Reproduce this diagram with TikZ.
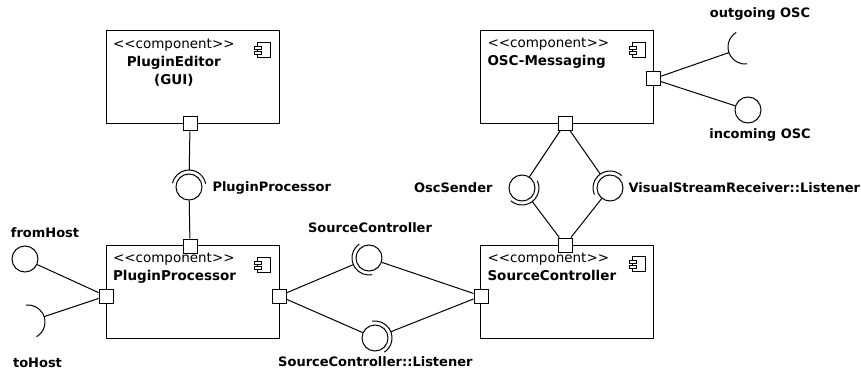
\documentclass[tikz,border=0pt]{standalone}
\usepackage{fontspec}
\setmainfont{DejaVu Sans}
\usetikzlibrary{calc}

\tikzset{
  comp/.style={draw,minimum width=173pt,minimum height=93pt,inner sep=0pt},
  comptext/.style={anchor=north west,inner sep=0pt,align=left},
  port/.style={draw,fill=white,minimum size=14pt,inner sep=0pt},
  ball/.style={draw,circle,minimum size=26pt,inner sep=0pt},
  lbl/.style={font=\fontsize{13}{18}\selectfont\bfseries,inner sep=1pt},
  compicon/.pic={
    \draw[line width=0.7pt,fill=white] (0,0) rectangle (13,-15);
    \draw[line width=0.7pt,fill=white] (-3,-4) rectangle (4,-7);
    \draw[line width=0.7pt,fill=white] (-3,-9) rectangle (4,-12);
  },
}

% socket of a required interface: #1 centre, #2 port
\newcommand\socket[2]{%
  \draw let \p1=($(#2)-(#1)$), \n1={atan2(\y1,\x1)} in
    ($(#1)+({\n1-78}:17)$) arc[start angle=\n1-78,end angle=\n1+78,radius=17]
    ($(#1)+(\n1:17)$) -- (#2);}
\newcommand\stereo{<{}<component>{}>}

\begin{document}
\begin{tikzpicture}[x=1pt,y=1pt,line width=1pt,font=\fontsize{13.5}{18}\selectfont]
\useasboundingbox (0,0) rectangle (861,-374);

% components
\node[comp] (pe) at (192.5,-77.5) {};
\node[comp] (pp) at (192.5,-292) {};
\node[comp] (om) at (567,-77) {};
\node[comp] (sc) at (567,-291.5) {};
\foreach \c in {pe,pp,om,sc}
  \pic at ($(\c.north east)+(-22,-12)$) {compicon};

\node[comptext,align=center] (tpe) at ($(pe.north west)+(7,-8)$) {\stereo\\\textbf{PluginEditor}\\\textbf{(GUI)}};
\node[comptext] (tpp) at ($(pp.north west)+(7,-8)$) {\stereo\\\textbf{PluginProcessor}};
\node[comptext] (tom) at ($(om.north west)+(7,-8)$) {\stereo\\\textbf{OSC-Messaging}};
\node[comptext] (tsc) at ($(sc.north west)+(7,-8)$) {\stereo\\\textbf{SourceController}};

% ports
\node[port] (peB) at (190,-124) {};
\node[port] (ppT) at (190,-246) {};
\node[port] (ppL) at (106,-296) {};
\node[port] (ppR) at (279,-296) {};
\node[port] (scL) at (481,-296) {};
\node[port] (scT) at (565,-245) {};
\node[port] (omB) at (565,-123.5) {};
\node[port] (omR) at (653,-79) {};

% provided interfaces
\node[ball] (bFrom) at (25,-259) {};
\node[ball] (bIn) at (748,-110) {};
\node[ball] (bPP) at (189,-187) {};
\node[ball] (bSC) at (369,-258) {};
\node[ball] (bSCL) at (375,-338) {};
\node[ball] (bOsc) at (522,-188) {};
\node[ball] (bVsr) at (610,-188) {};
\coordinate (sTo) at (28,-322);
\coordinate (sOut) at (745,-47);

\draw (bFrom) -- (ppL);
\draw (bIn) -- (omR);
\draw (bPP) -- (ppT);
\draw (bSC) -- (scL);
\draw (bSCL) -- (ppR);
\draw (bOsc) -- (omB);
\draw (bVsr) -- (scT);

% required interfaces
\socket{sTo}{ppL}
\socket{sOut}{omR}
\socket{bPP}{peB}
\socket{bSC}{ppR}
\socket{bSCL}{scL}
\socket{bOsc}{scT}
\socket{bVsr}{omB}

% labels
\node[lbl] (lFrom) at (45,-233) {fromHost};
\node[lbl] (lTo) at (37.5,-363) {toHost};
\node[lbl,anchor=west] (lPP) at (211,-188) {PluginProcessor};
\node[lbl] (lSC) at (370,-228) {SourceController};
\node[lbl,anchor=east] (lSCL) at (474,-362) {SourceController::Listener};
\node[lbl] (lOut) at (760,-14) {outgoing OSC};
\node[lbl] (lIn) at (760,-135) {incoming OSC};
\node[lbl,anchor=east] (lOsc) at (494,-188) {OscSender};
\node[lbl,anchor=west] (lVsr) at (627,-188) {VisualStreamReceiver::Listener};
\end{tikzpicture}
\end{document}
